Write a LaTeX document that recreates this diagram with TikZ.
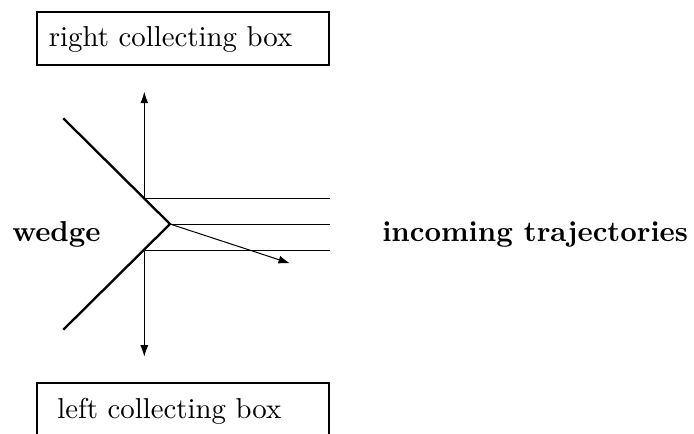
\documentclass[tikz,border=0pt]{standalone}
\usetikzlibrary{arrows.meta}
\begin{document}
\begin{tikzpicture}[x=0.3472pt,y=-0.3472pt,
  boxline/.style={line width=0.75pt},
  wedgeline/.style={line width=0.8pt,line join=miter},
  thinline/.style={line width=0.35pt},
  tip/.style={-{Latex[length=4pt,width=2.8pt]}},
  lbl/.style={anchor=base west,inner sep=0pt,font=\bfseries},
  boxtext/.style={anchor=base west,inner sep=0pt}]
  \useasboundingbox (0,0) rectangle (694,433);
  \clip (0,0) rectangle (694,433);

  % collecting boxes
  \draw[boxline] (37.3,11.7) rectangle (329.3,65);
  \node[boxtext] (rbox) at (48.3,46.7) {right collecting box};
  \draw[boxline] (37.3,440) -- (37.3,383.3) -- (329.3,383.3) -- (329.3,440);
  \node[boxtext] (lbox) at (56.7,418.3) {left collecting box};

  % wedge geometry
  \coordinate (wtop) at (63.3,118.3);
  \coordinate (apex) at (170,224);
  \coordinate (wbot) at (63.3,329.7);
  \coordinate (up) at (144.3,198);
  \coordinate (lo) at (144.3,250);
  \coordinate (uptip) at (144.3,91.7);
  \coordinate (lotip) at (144.3,356.7);
  \coordinate (e1) at (330,198);
  \coordinate (e2) at (330,224);
  \coordinate (e3) at (330,250);
  \coordinate (refl) at (290,263.3);

  \draw[wedgeline] (wtop) -- (apex) -- (wbot);

  % incoming trajectories
  \draw[thinline] (up) -- (e1);
  \draw[thinline] (apex) -- (e2);
  \draw[thinline] (lo) -- (e3);

  % deflected paths
  \draw[thinline,tip] (up) -- (uptip);
  \draw[thinline,tip] (lo) -- (lotip);
  \draw[thinline,tip] (apex) -- (refl);

  % labels
  \node[lbl] (wlbl) at (11.7,241.7) {wedge};
  \node[lbl] (ilbl) at (381.7,241.7) {incoming trajectories};
\end{tikzpicture}
\end{document}
